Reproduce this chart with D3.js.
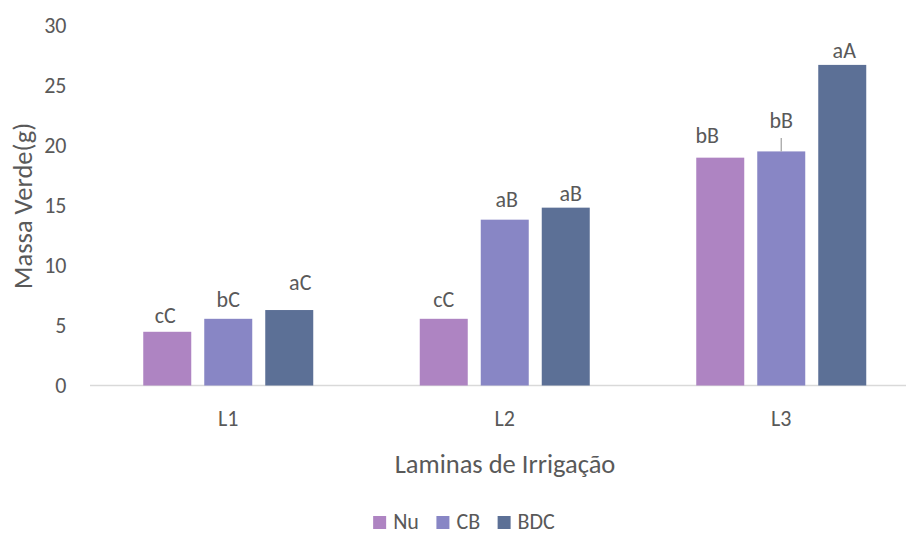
<!DOCTYPE html>
<html>
<head>
<meta charset="utf-8">
<script src="https://cdn.jsdelivr.net/npm/d3@7"></script>
<style>
    body { margin: 0; background: #fff; }
    svg text { font-family: Carlito, Calibri, Lato, sans-serif; fill: #595959; }
</style>
</head>
<body>
<svg width="906" height="536"></svg>
<script>
var categories = ["L1", "L2", "L3"];
var series = ["Nu", "CB", "BDC"];
var nuValues = [4.47, 5.55, 18.96];
var cbValues = [5.55, 13.8, 19.48];
var bdcValues = [6.28, 14.8, 26.68];
var cbErrors = [0, 0, 1.12];
var nuLabels = ["cC", "cC", "bB"];
var cbLabels = ["bC", "aB", "bB"];
var bdcLabels = ["aC", "aB", "aA"];
var yTicks = [0, 5, 10, 15, 20, 25, 30];

var colors = {Nu: "#ae84c2", CB: "#8886c5", BDC: "#5c7096"};

var svg = d3.select("svg"),
    margin = {top: 25, left: 90},
    plotW = 829.5,
    plotH = 360.5;

var g = svg.append("g").attr("transform", "translate(" + margin.left + "," + margin.top + ")");

var rows = categories.map(function (c, i) {
    return {
        cat: c,
        bars: [
            {s: "Nu", v: nuValues[i], lab: nuLabels[i], err: 0},
            {s: "CB", v: cbValues[i], lab: cbLabels[i], err: cbErrors[i]},
            {s: "BDC", v: bdcValues[i], lab: bdcLabels[i], err: 0}
        ]
    };
});

var x0 = d3.scaleBand().domain(categories).range([0, plotW]);
var x1 = d3.scaleBand().domain(series).range([-85, 85]).paddingInner(13 / 61);
var y = d3.scaleLinear().domain([0, 30]).range([plotH, 0]);

// y axis labels only, no line
var yAxis = g.append("g")
    .call(d3.axisLeft(y).tickValues(yTicks).tickSize(0).tickPadding(23.5));
yAxis.select(".domain").remove();
yAxis.selectAll("text").style("font-size", "22px").attr("fill", "#595959");

// baseline
g.append("line")
    .attr("x1", 0).attr("x2", plotW)
    .attr("y1", y(0)).attr("y2", y(0))
    .attr("stroke", "#d9d9d9").attr("stroke-width", 1.3);

var groups = g.selectAll(".grp")
    .data(rows)
    .enter().append("g")
    .attr("transform", function (d) { return "translate(" + (x0(d.cat) + x0.bandwidth() / 2) + ",0)"; });

groups.selectAll("rect")
    .data(function (d) { return d.bars; })
    .enter().append("rect")
    .attr("x", function (d) { return x1(d.s); })
    .attr("width", x1.bandwidth())
    .attr("y", function (d) { return y(d.v); })
    .attr("height", function (d) { return y(0) - y(d.v); })
    .attr("fill", function (d) { return colors[d.s]; });

groups.selectAll(".err")
    .data(function (d) { return d.bars.filter(function (b) { return b.err > 0; }); })
    .enter().append("line")
    .attr("x1", function (d) { return x1(d.s) + x1.bandwidth() / 2; })
    .attr("x2", function (d) { return x1(d.s) + x1.bandwidth() / 2; })
    .attr("y1", function (d) { return y(d.v); })
    .attr("y2", function (d) { return y(d.v + d.err); })
    .attr("stroke", "#a6a6a6").attr("stroke-width", 1.3);

// hand-dragged label nudges (dx, dy) as in the original
var nudges = [
    [[-2, -1], [0, -4], [11, -12]],
    [[0, -4], [2, -5], [5, 1]],
    [[-13, -7], [0, -2], [2, 1]]
];

groups.each(function (d, gi) {
    d3.select(this).selectAll(".lab")
        .data(d.bars)
        .enter().append("text")
        .attr("text-anchor", "middle")
        .style("font-size", "22px")
        .attr("x", function (b, i) { return x1(b.s) + x1.bandwidth() / 2 + nudges[gi][i][0]; })
        .attr("y", function (b, i) { return y(b.v + b.err) - 8 + nudges[gi][i][1]; })
        .text(function (b) { return b.lab; });
});

// category labels
g.selectAll(".cat")
    .data(categories)
    .enter().append("text")
    .attr("text-anchor", "middle")
    .style("font-size", "22px")
    .attr("x", function (d) { return x0(d) + x0.bandwidth() / 2; })
    .attr("y", plotH + 40)
    .text(function (d) { return d; });

// axis titles
svg.append("text")
    .attr("text-anchor", "middle")
    .style("font-size", "26.5px")
    .attr("x", 505)
    .attr("y", 473)
    .text("Laminas de Irrigação");

svg.append("text")
    .attr("text-anchor", "middle")
    .style("font-size", "26.5px")
    .attr("transform", "translate(32,206) rotate(-90)")
    .text("Massa Verde(g)");

// legend
var legend = svg.append("g");
var lx = 0;
series.forEach(function (s) {
    legend.append("rect")
        .attr("x", lx).attr("y", -13)
        .attr("width", 13).attr("height", 13)
        .attr("fill", colors[s]);
    var t = legend.append("text")
        .attr("x", lx + 20).attr("y", 0)
        .style("font-size", "22px")
        .text(s);
    lx += 20 + t.node().getComputedTextLength() + 17.5;
});
lx -= 17.5;
legend.attr("transform", "translate(" + (464 - lx / 2) + ",529)");
</script>
</body>
</html>
